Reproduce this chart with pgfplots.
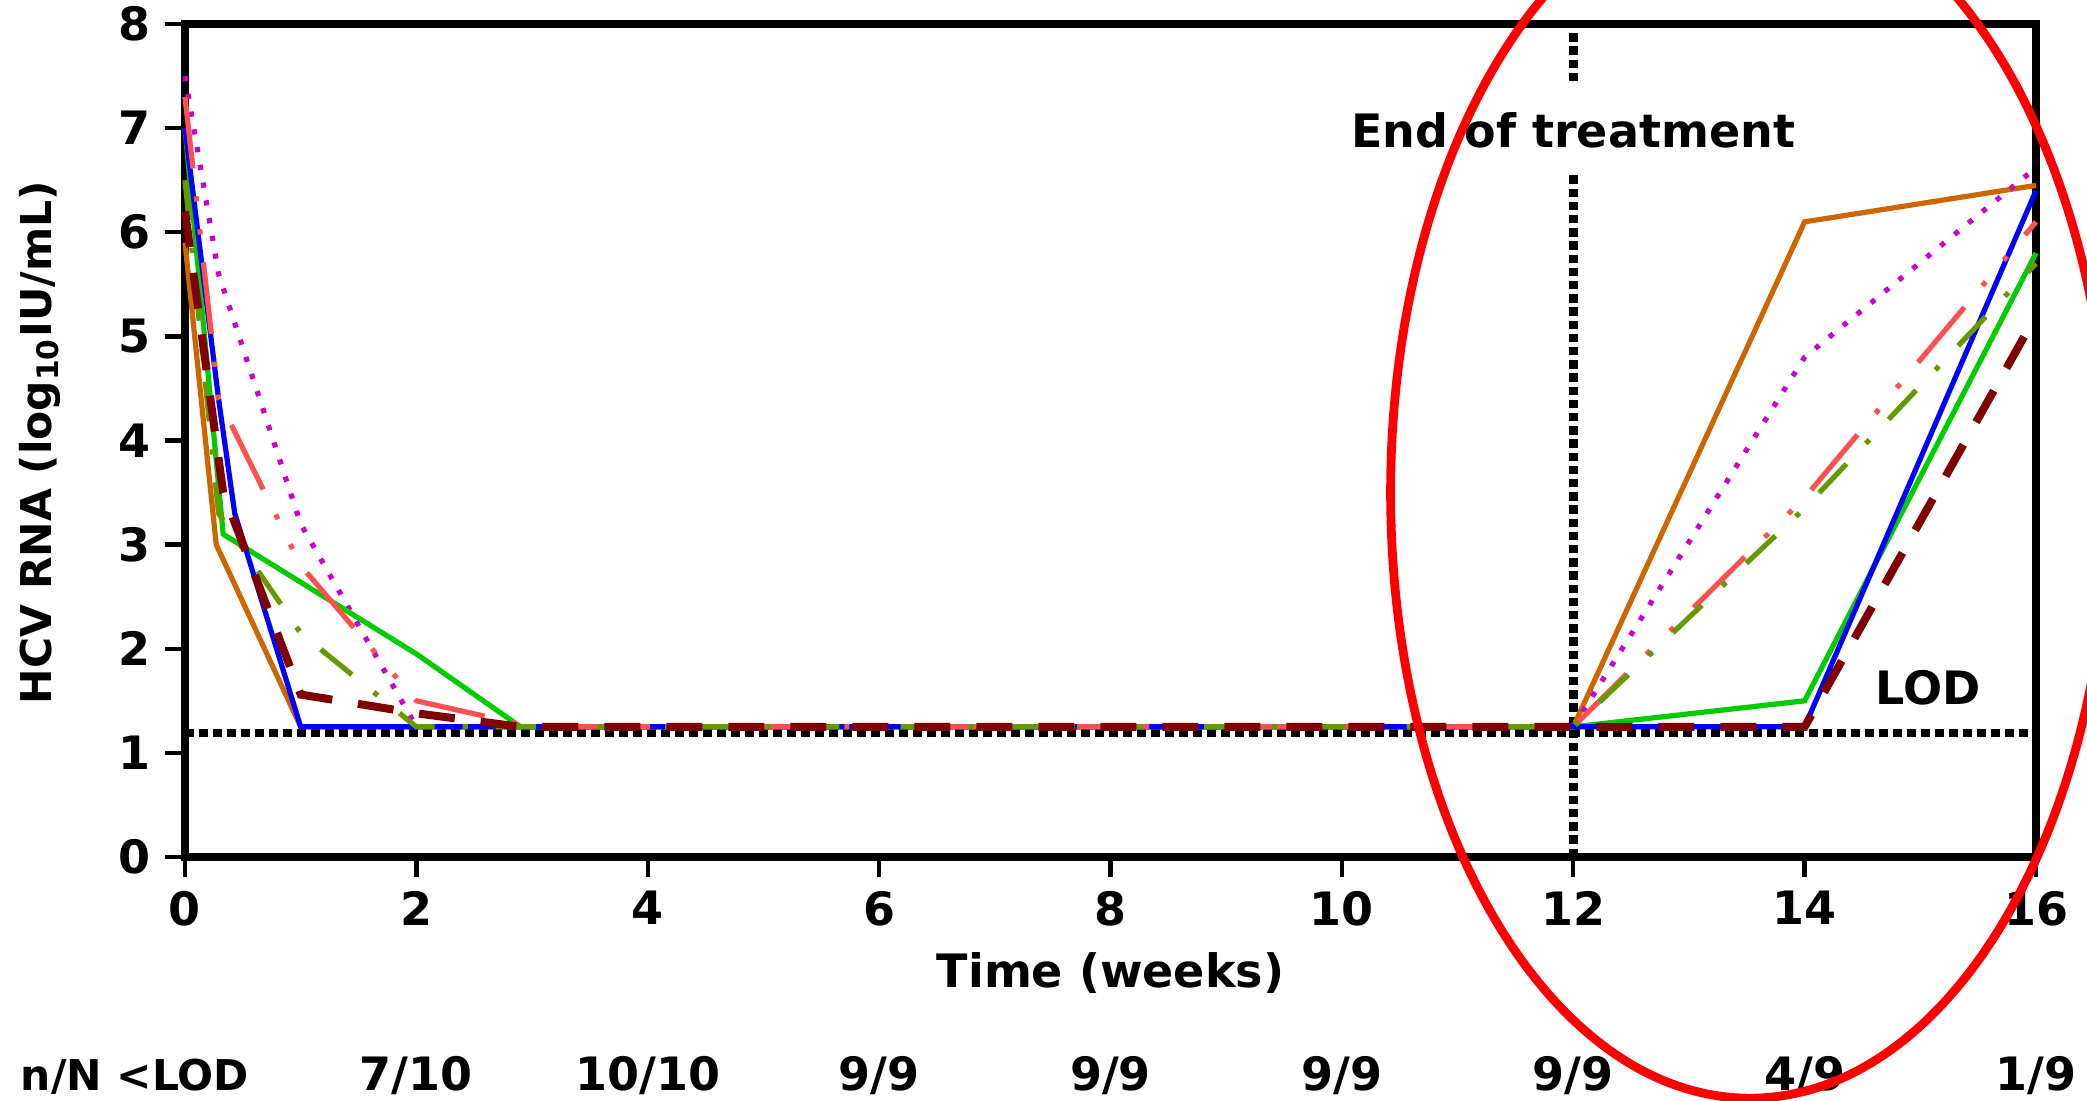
\documentclass[border=0pt]{standalone}
\usepackage{fontspec}
\setmainfont{DejaVu Sans}
\usepackage{pgfplots}
\pgfplotsset{compat=1.18}
\definecolor{cOrange}{HTML}{CC6600}
\definecolor{cBlue}{HTML}{0000FF}
\definecolor{cGreen}{HTML}{00CC00}
\definecolor{cMagenta}{HTML}{CC00CC}
\definecolor{cSalmon}{HTML}{FF5050}
\definecolor{cOlive}{HTML}{669900}
\definecolor{cDarkRed}{HTML}{800000}
\newcommand{\lbl}{\fontsize{11.5}{13}\selectfont\bfseries}
\newcommand{\lbls}{\fontsize{10.6}{12}\selectfont\bfseries}

\begin{document}
\begin{tikzpicture}
\begin{axis}[
    at={(46.25pt,61pt)}, anchor=south west,
    scale only axis, width=462.75pt, height=208.25pt,
    xmin=0, xmax=16, ymin=0, ymax=8,
    xtick={0,2,...,16}, ytick={0,1,...,8},
    tick pos=left, tick align=outside, major tick length=5pt,
    every tick/.style={black, line width=1.1pt},
    axis line style={line width=2.2pt},
    tick label style={font=\lbl},
    /pgf/number format/assume math mode=true,
    clip=false,
]

% LOD and end of treatment markers
\addplot[black, line width=2pt, dash pattern=on 2.2pt off 1.3pt] coordinates {(0,1.19) (16,1.19)};
\addplot[black, line width=2.2pt, dash pattern=on 2.1pt off 1.2pt] coordinates {(12,0) (12,6.55)};
\addplot[black, line width=2.2pt, dash pattern=on 2.1pt off 1.2pt] coordinates {(12,7.45) (12,8)};

% patients
\addplot[cOrange, line width=1.3pt] coordinates {
    (0,5.9) (0.27,3.0) (1,1.25) (12,1.25) (14,6.1) (16,6.45)};
\addplot[cMagenta, line width=1.3pt, dash pattern=on 1.3pt off 3.2pt] coordinates {
    (0,7.5) (0.29,5.6) (1,3.2) (2,1.25) (12,1.25) (14,4.8) (16,6.62)};
\addplot[cGreen, line width=1.3pt] coordinates {
    (0,7.0) (0.33,3.1) (2,1.95) (2.9,1.25) (12,1.25) (14,1.5) (16,5.8)};
\addplot[cBlue, line width=1.3pt] coordinates {
    (0,7.0) (0.29,4.4) (0.43,3.3) (1,1.25) (12,1.25) (14,1.25) (16,6.4)};
\addplot[cSalmon, line width=1.3pt, dash pattern=on 18pt off 7pt on 1.3pt off 7pt on 1.3pt off 7pt] coordinates {
    (0,7.3) (0.29,4.4) (1,2.8) (2,1.5) (3,1.25) (12,1.25) (14,3.45) (16,6.1)};
\addplot[cOlive, line width=1.3pt, dash pattern=on 10pt off 7pt on 1.3pt off 7pt] coordinates {
    (0,6.5) (0.29,3.3) (1,2.15) (2,1.25) (12,1.25) (14,3.35) (16,5.7)};
\addplot[cDarkRed, line width=2pt, dash pattern=on 9pt off 6.5pt] coordinates {
    (0,6.2) (0.33,3.5) (1,1.56) (2,1.38) (2.9,1.25) (12,1.25) (14,1.25) (16,5.2)};

\node[font=\lbl, anchor=base] at (axis cs:12,6.81) {End of treatment};
\node[font=\lbl, anchor=base] at (axis cs:15.07,1.46) {LOD};
\node[font=\lbl, anchor=base] at (axis cs:8,-1.258) {Time (weeks)};
\node[font=\lbls, rotate=90] at (axis cs:-1.253,3.98) {HCV RNA (log\textsubscript{10}IU/mL)};

% n/N below LOD
\node[font=\lbls, anchor=base west, inner sep=0pt] at (axis cs:-1.426,-2.245) {n/N <LOD};
\node[font=\lbl, anchor=base] at (axis cs:2,-2.245) {7/10};
\node[font=\lbl, anchor=base] at (axis cs:4,-2.245) {10/10};
\node[font=\lbl, anchor=base] at (axis cs:6,-2.245) {9/9};
\node[font=\lbl, anchor=base] at (axis cs:8,-2.245) {9/9};
\node[font=\lbl, anchor=base] at (axis cs:10,-2.245) {9/9};
\node[font=\lbl, anchor=base] at (axis cs:12,-2.245) {9/9};
\node[font=\lbl, anchor=base] at (axis cs:14,-2.245) {4/9};
\node[font=\lbl, anchor=base] at (axis cs:16,-2.245) {1/9};
\end{axis}

% highlight of the rebound phase
\draw[red, line width=2.2pt] (437.5pt,152.1pt) ellipse [x radius=89.85pt, y radius=151.4pt];

\pgfresetboundingbox
\path[use as bounding box] (0,0) rectangle (521.75pt,275.25pt);
\end{tikzpicture}
\end{document}
